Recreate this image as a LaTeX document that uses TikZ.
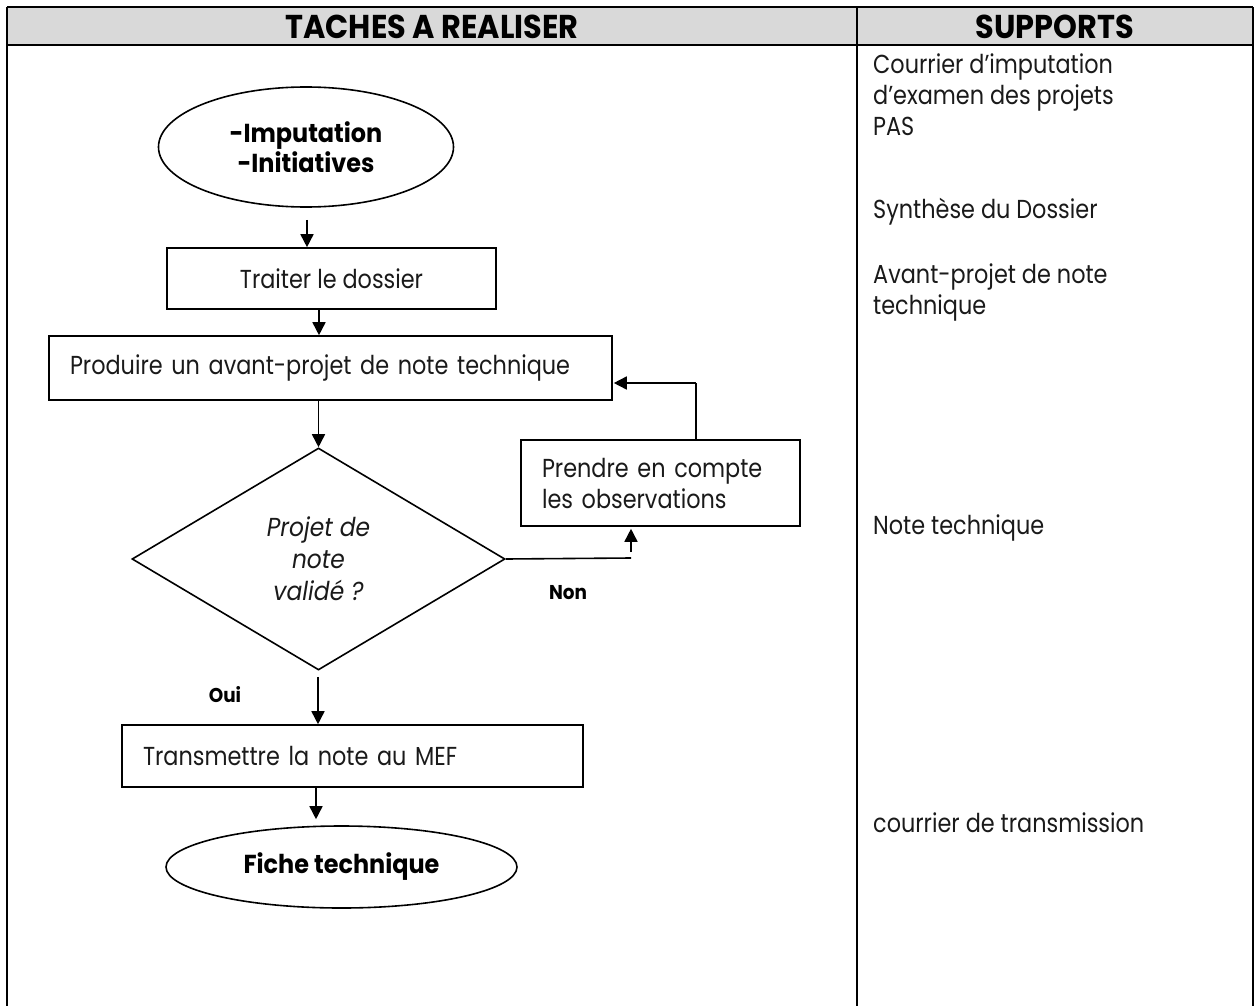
\documentclass[tikz,border=0pt]{standalone}
\usepackage{fontspec}
\setmainfont{Poppins}[FakeStretch=0.86,
  BoldFeatures={FakeStretch=0.92},
  ItalicFeatures={FakeStretch=0.9}]
\usetikzlibrary{shapes.geometric,arrows.meta}

\definecolor{headgray}{HTML}{D9D9D9}
\definecolor{ink}{HTML}{1A1A1A}

\tikzset{
  frameline/.style={line width=2pt, draw=black},
  shapeline/.style={line width=1.6pt, draw=black},
  arr/.style={line width=1.6pt, -{Triangle[length=13pt,width=13pt]}},
  plain/.style={line width=1.6pt},
  bodytext/.style={font=\fontsize{26}{31}\selectfont, text=ink},
  boldtext/.style={font=\fontsize{26}{30}\selectfont\bfseries, text=black},
  headtext/.style={font=\fontsize{33}{34}\selectfont\bfseries, text=black, inner sep=0pt},
  tagtext/.style={font=\fontsize{20}{22}\selectfont\bfseries, text=black, inner sep=0pt},
  terminal/.style={ellipse, shapeline, inner sep=0pt, align=center, boldtext},
  taskbox/.style={rectangle, shapeline, inner ysep=0pt, bodytext},
  decision/.style={diamond, shapeline, inner sep=0pt, align=center,
    font=\fontsize{26}{32}\selectfont\itshape, text=ink},
  supporttext/.style={bodytext, anchor=west, align=left, inner sep=0pt}
}

\begin{document}
\begin{tikzpicture}[x=1pt, y=-1pt]
  \useasboundingbox (0,0) rectangle (1255,1006);
  \fill[white] (0,0) rectangle (1255,1006);

  % table: header band, borders and column divider
  \fill[headgray] (7,7) rectangle (1253,45);
  \draw[frameline] (7,7) -- (1253,7);
  \draw[frameline] (7,45) -- (1253,45);
  \draw[frameline] (7,7) -- (7,1006);
  \draw[frameline] (1253,7) -- (1253,1006);
  \draw[frameline] (857,7) -- (857,1006);

  \node[headtext] (hTasks) at (432,27) {TACHES A REALISER};
  \node[headtext] (hSupports) at (1055,27) {SUPPORTS};

  % flowchart
  \node[terminal, minimum width=295pt, minimum height=120pt] (start) at (306,147)
    {-Imputation\\-Initiatives};

  \node[taskbox, minimum width=329pt, minimum height=61pt] (treat) at (331.5,278.5)
    {Traiter le dossier};

  \node[taskbox, minimum width=563pt, minimum height=64pt, text width=521pt,
        inner xsep=21pt, align=left] (draft) at (330.5,368)
    {Produire un avant-projet de note technique};

  \node[decision, minimum width=373pt, minimum height=222pt] (check) at (318.5,559)
    {Projet de\\note\\validé ?};

  \node[taskbox, minimum width=279pt, minimum height=86pt, text width=237pt,
        inner xsep=21pt, align=left] (obs) at (660.5,483)
    {Prendre en compte\\les observations};

  \node[taskbox, minimum width=461pt, minimum height=62pt, text width=419pt,
        inner xsep=21pt, align=left] (send) at (352.5,756)
    {Transmettre la note au MEF};

  \node[terminal, minimum width=351pt, minimum height=82pt] (sheet) at (341.5,867)
    {Fiche technique};

  \node[tagtext] (no) at (568,593) {Non};
  \node[tagtext] (yes) at (225,695) {Oui};

  % connectors
  \coordinate (a1) at (307,0);
  \draw[arr, shorten <=12pt] (a1 |- start.south) -- (a1 |- treat.north);

  \coordinate (a2) at (319,0);
  \draw[arr] (a2 |- treat.south) -- (a2 |- draft.north);

  \draw[arr] (check.north |- draft.south) -- (check.north);

  \coordinate (a4) at (318,0);
  \draw[arr, shorten <=6pt] (a4 |- check.south) -- (a4 |- send.north);

  \coordinate (a5) at (316,0);
  \draw[arr, shorten >=6pt] (a5 |- send.south) -- (a5 |- sheet.north);

  \coordinate (nk) at (631,558);
  \draw[plain] (check.east) -- (nk);
  \draw[arr, shorten >=2pt] ([yshift=6pt]nk) -- (nk |- obs.south);

  \coordinate (fb) at (696,383);
  \draw[plain] (fb |- obs.north) -- (fb);
  \draw[arr, shorten >=1pt] (fb) -- (fb -| draft.east);

  % supports column
  \node[supporttext] (s1) at (873,95)
    {Courrier d’imputation\\d’examen des projets\\PAS};
  \node[supporttext] (s2) at (873,212) {Synthèse du Dossier};
  \node[supporttext] (s3) at (873,292) {Avant-projet de note\\technique};
  \node[supporttext] (s4) at (873,528) {Note technique};
  \node[supporttext] (s5) at (873,823) {courrier de transmission};
\end{tikzpicture}
\end{document}
